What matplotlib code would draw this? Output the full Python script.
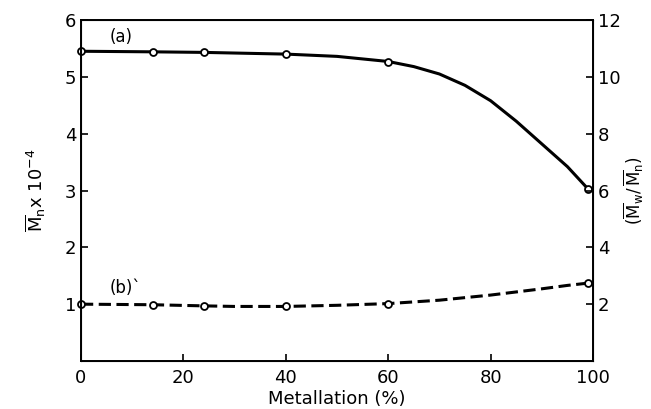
import matplotlib
matplotlib.use("Agg")
import matplotlib.pyplot as plt

# measured points (circles)
metal_pts = [0, 14, 24, 40, 60, 99]
mn_pts = [5.45, 5.44, 5.43, 5.40, 5.26, 3.03]
ratio_pts = [1.0, 0.99, 0.96, 0.96, 1.0, 1.37]   # plotted on the left scale (x2 on the right)

# hand-drawn curves
curve_a_x = [0, 14, 24, 40, 50, 60, 65, 70, 75, 80, 85, 90, 95, 99]
curve_a_y = [5.45, 5.44, 5.43, 5.40, 5.36, 5.27, 5.18, 5.05, 4.85, 4.58, 4.22, 3.82, 3.42, 3.03]
curve_b_x = [0, 14, 24, 30, 40, 50, 60, 70, 80, 90, 95, 99]
curve_b_y = [1.0, 0.99, 0.97, 0.96, 0.96, 0.98, 1.01, 1.07, 1.16, 1.27, 1.33, 1.37]

x_ticks = [0, 20, 40, 60, 80, 100]
left_ticks = [1, 2, 3, 4, 5, 6]
right_ticks = [2, 4, 6, 8, 10, 12]


def main():
    plt.rcParams['font.family'] = ['DejaVu Sans']
    fig = plt.figure(figsize=(6.51, 4.09), dpi=100)
    ax = fig.add_axes([81 / 651, 1 - 361 / 409, (593 - 81) / 651, (361 - 20) / 409])

    ax.plot(curve_a_x, curve_a_y, color='black', lw=2.2, solid_capstyle='round')
    ax.plot(curve_b_x, curve_b_y, color='black', lw=2.2, dashes=(4, 1.8))
    ax.plot(metal_pts, mn_pts, 'o', ms=5, mfc='white', mec='black', mew=1.3, clip_on=False)
    ax.plot(metal_pts, ratio_pts, 'o', ms=5, mfc='white', mec='black', mew=1.3, clip_on=False)

    ax.set_xlim(0, 100)
    ax.set_ylim(0, 6)
    ax.set_xticks(x_ticks)
    ax.set_yticks(left_ticks)
    ax.tick_params(direction='in', length=5, width=1.2, labelsize=13)
    ax.tick_params(axis='x', pad=6)
    for s in ax.spines.values():
        s.set_linewidth(1.4)

    ax2 = ax.twinx()
    ax2.set_ylim(0, 12)
    ax2.set_yticks(right_ticks)
    ax2.tick_params(direction='in', length=5, width=1.2, labelsize=13)

    ax.text(5.5, 5.62, '(a)', fontsize=12)
    ax.text(5.5, 1.2, "(b)`", fontsize=12)

    ax.set_xlabel('Metallation (%)', fontsize=13, labelpad=2)
    ax.set_ylabel(r'$\overline{\mathrm{M}}_\mathrm{n}$x 10$^{-4}$', fontsize=13, labelpad=12)
    ax2.set_ylabel(r'$(\overline{\mathrm{M}}_\mathrm{w}/\,\overline{\mathrm{M}}_\mathrm{n})$',
                   fontsize=12, rotation=90, labelpad=1)

    fig.savefig('out.png', dpi=100)


if __name__ == '__main__':
    main()
